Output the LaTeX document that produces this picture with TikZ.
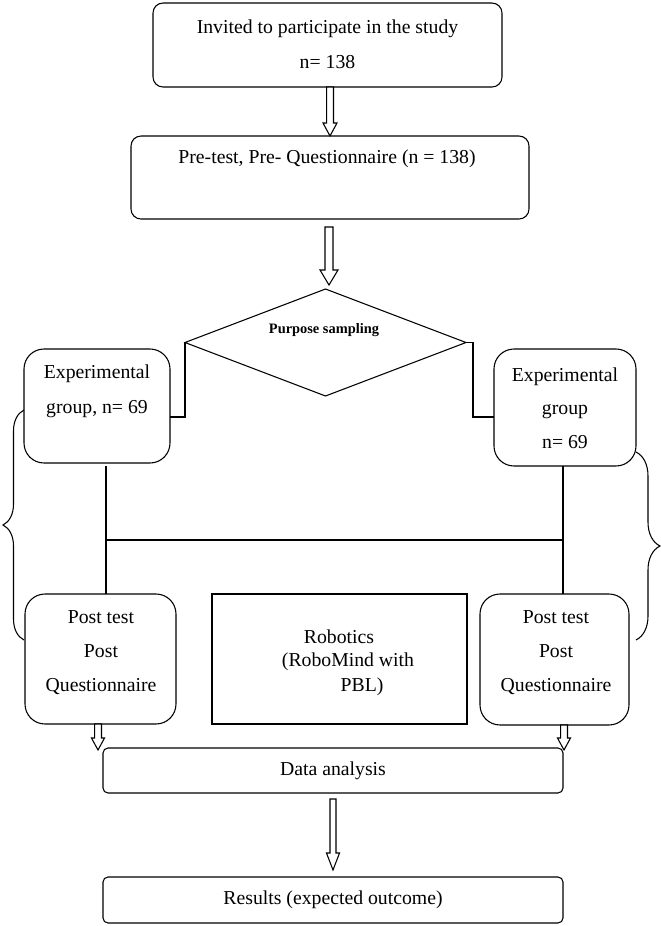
\documentclass[tikz,border=0pt]{standalone}
\usepackage{fontspec}
\setmainfont{Liberation Serif}
\usetikzlibrary{shapes.geometric,calc,decorations.pathreplacing}
\newcommand\pxl[1]{#1*0.75pt}
% hollow block arrow pointing down: start, end, half shaft, half head, head length
\newcommand\harrow[5]{\draw[arr] let \p1=(#1), \p2=(#2) in
  (\x2-#3,\y1) -- (\x2-#3,\y2+#5) -- (\x2-#4,\y2+#5) -- (\x2,\y2) --
  (\x2+#4,\y2+#5) -- (\x2+#3,\y2+#5) -- (\x2+#3,\y1) -- cycle;}
\begin{document}
\begin{tikzpicture}[x=0.75pt,y=-0.75pt,
  line width=0.8pt,
  every node/.style={inner sep=0pt, outer sep=0pt},
  rbox/.style={draw, rounded corners=#1},
  sbox/.style={draw},
  txt/.style={font=\fontsize{14.8}{26}\selectfont, align=center},
  txtp/.style={font=\fontsize{14.8}{25.5}\selectfont, align=center},
  link/.style={draw},
  arr/.style={draw, fill=white, line join=miter},
  brc/.style={draw, decorate}
]
\useasboundingbox (0,0) rectangle (661,926);

% boxes
\node[rbox=\pxl{10}, minimum width=\pxl{349}, minimum height=\pxl{84}] (b1) at (327.5,45) {};
\node[txt] (b1t) at (327.5,44.5) {Invited to participate in the study\\n= 138};

\node[rbox=\pxl{10}, minimum width=\pxl{398}, minimum height=\pxl{83}] (b2) at (330,177.5) {};
\node[txt] (b2t) at (327,159) {Pre-test, Pre- Questionnaire (n = 138)};

\node[draw, diamond, minimum width=\pxl{281}, minimum height=\pxl{107}] (dia) at (325.5,342.5) {};
\node[font=\bfseries\fontsize{10.8}{13}\selectfont] (diat) at (324,330) {Purpose sampling};

\node[rbox=\pxl{20}, minimum width=\pxl{146}, minimum height=\pxl{114}] (lexp) at (97,406) {};
\node[txt] (lexpt) at (97,391.5) {Experimental\\group, n= 69};

\node[rbox=\pxl{20}, minimum width=\pxl{142}, minimum height=\pxl{117}] (rexp) at (565,407.5) {};
\node[txt, font=\fontsize{14.8}{25.2}\selectfont] (rexpt) at (565,408) {Experimental\\group\\n= 69};

\node[rbox=\pxl{20}, minimum width=\pxl{151}, minimum height=\pxl{130}] (lpost) at (100.5,659) {};
\node[txtp] (lpostt) at (101,653) {Post test\\Post\\Questionnaire};

\node[sbox, minimum width=\pxl{255}, minimum height=\pxl{130}] (rob) at (339.5,659) {};
\node[txt] (rob1) at (339,637) {Robotics};
\node[txt] (rob2) at (348,662) {(RoboMind with};
\node[txt] (rob3) at (362,687) {PBL)};

\node[rbox=\pxl{20}, minimum width=\pxl{149}, minimum height=\pxl{131}] (rpost) at (554.5,659.5) {};
\node[txtp] (rpostt) at (556,653) {Post test\\Post\\Questionnaire};

\node[rbox=\pxl{5}, txt, minimum width=\pxl{460}, minimum height=\pxl{45}] (data) at (333,770.5) {Data analysis};
\node[rbox=\pxl{5}, txt, minimum width=\pxl{460}, minimum height=\pxl{46}] (res) at (333,900) {Results (expected outcome)};

% connectors
\coordinate (lj) at (170,417);
\draw[link] (dia.west) |- (lj);
\coordinate (rj) at (494,417);
\draw[link] (dia.east) -- ++(7,0) |- (rj);
\coordinate (lv) at (106,466);
\draw[link] (lv) -- (lv |- lpost.north);
\coordinate (rv) at (563,466);
\draw[link] (rv) -- (rv |- rpost.north);
\coordinate (lh) at (106,540);
\draw[link] (lh) -- (lh -| rv);

% braces
\draw[brc, decoration={brace, amplitude=\pxl{21}}] (24,640) -- (24,410);
\draw[brc, decoration={brace, amplitude=\pxl{24}}] (636,452) -- (636,640);

% hollow arrows
\coordinate (a2s) at (329,227);
\coordinate (a2e) at (329,285);
\coordinate (la) at (98,750);
\coordinate (ra) at (564,750);
\coordinate (a3s) at (333,799);
\coordinate (a3e) at (333,870);
\harrow{b1.south}{b2.north}{2.6pt}{5.25pt}{9.75pt}
\harrow{a2s}{a2e}{3pt}{6.75pt}{11.25pt}
\harrow{lpost.south}{la}{2.6pt}{4.9pt}{9pt}
\harrow{rpost.south}{ra}{2.6pt}{4.9pt}{9pt}
\harrow{a3s}{a3e}{2.25pt}{4.9pt}{12.75pt}
\end{tikzpicture}
\end{document}
